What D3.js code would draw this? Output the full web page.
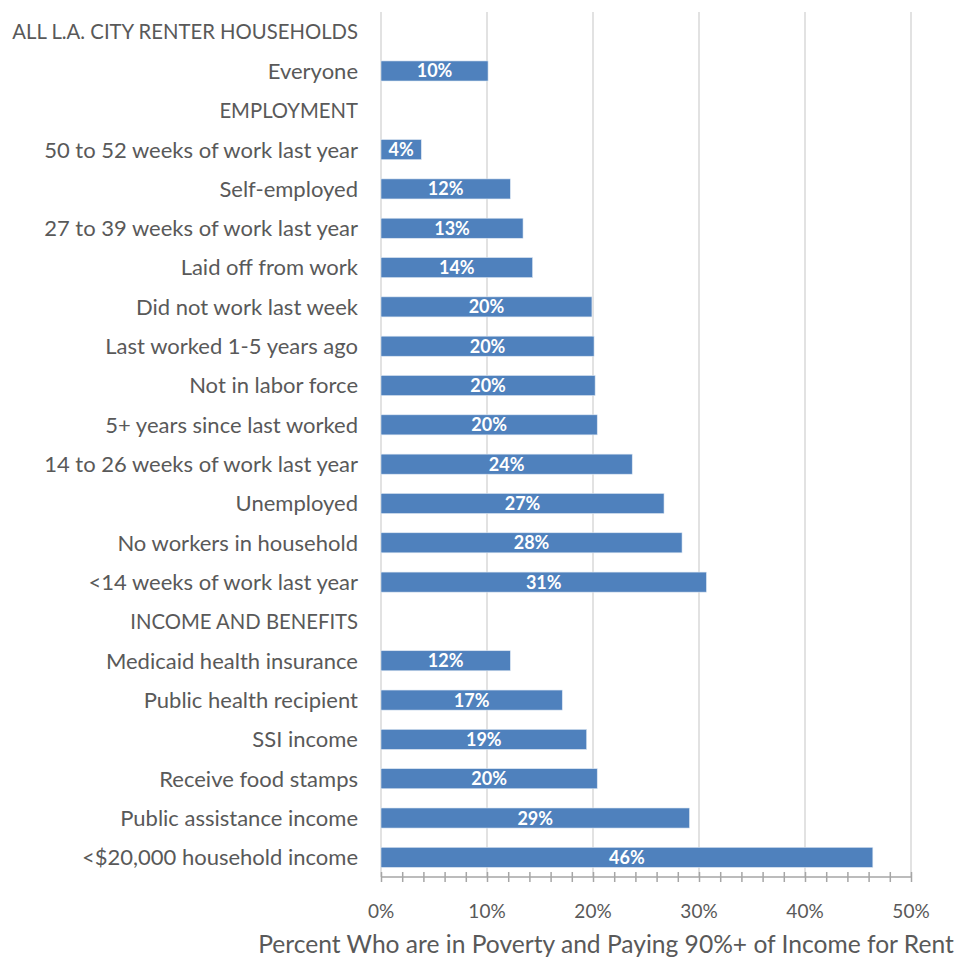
<!DOCTYPE html>
<html>
<head>
<meta charset="utf-8">
<script src="https://cdn.jsdelivr.net/npm/d3@7"></script>
<style>
  body { margin: 0; background: #fff; }
  svg { display: block; }
  text { font-family: Lato, "Open Sans", sans-serif; }
</style>
</head>
<body>
<svg id="chart" width="956" height="957"></svg>
<script>
const categories = [
  "ALL L.A. CITY RENTER HOUSEHOLDS",
  "Everyone",
  "EMPLOYMENT",
  "50 to 52 weeks of work last year",
  "Self-employed",
  "27 to 39 weeks of work last year",
  "Laid off from work",
  "Did not work last week",
  "Last worked 1-5 years ago",
  "Not in labor force",
  "5+ years since last worked",
  "14 to 26 weeks of work last year",
  "Unemployed",
  "No workers in household",
  "<14 weeks of work last year",
  "INCOME AND BENEFITS",
  "Medicaid health insurance",
  "Public health recipient",
  "SSI income",
  "Receive food stamps",
  "Public assistance income",
  "<$20,000 household income"
];
const values = [
  null, 10.1, null, 3.8, 12.2, 13.4, 14.3, 19.9, 20.1, 20.2, 20.4, 23.7,
  26.7, 28.4, 30.7, null, 12.2, 17.1, 19.4, 20.4, 29.1, 46.4
];
const headings = ["ALL L.A. CITY RENTER HOUSEHOLDS", "EMPLOYMENT", "INCOME AND BENEFITS"];
const xTicks = [0, 10, 20, 30, 40, 50];
const xMinorTicks = d3.range(0, 50.001, 2);
const xTitle = "Percent Who are in Poverty and Paying 90%+ of Income for Rent";

const data = categories.map((c, i) => ({ cat: c, val: values[i] }));

const svg = d3.select("#chart");
const margin = { left: 381, right: 45, top: 12, bottom: 80 };
const W = 956, H = 957;
const x = d3.scaleLinear().domain([0, 50]).range([margin.left, W - margin.right]);
const y = d3.scaleBand().domain(categories).range([margin.top, H - margin.bottom]).paddingInner(0.49).paddingOuter(0.245);

const gridColor = "#d9d9d9";
const axisColor = "#a6a6a6";
const textColor = "#595959";

// gridlines
svg.append("g").selectAll("line").data(xTicks).join("line")
  .attr("x1", d => x(d)).attr("x2", d => x(d))
  .attr("y1", margin.top).attr("y2", H - margin.bottom)
  .attr("stroke", gridColor).attr("stroke-width", 1.5);

// bars
svg.append("g").selectAll("rect").data(data.filter(d => d.val != null)).join("rect")
  .attr("x", x(0))
  .attr("y", d => y(d.cat))
  .attr("width", d => x(d.val) - x(0))
  .attr("height", y.bandwidth())
  .attr("fill", "#4f81bd")
  .attr("stroke", "#dce6f2").attr("stroke-width", 0.6);

// data labels
svg.append("g").selectAll("text").data(data.filter(d => d.val != null)).join("text")
  .attr("x", d => (x(0) + x(d.val)) / 2)
  .attr("y", d => y(d.cat) + y.bandwidth() / 2)
  .attr("dy", "0.36em")
  .attr("text-anchor", "middle")
  .attr("fill", "#ffffff")
  .attr("font-weight", "bold")
  .attr("font-size", 18)
  .text(d => Math.round(d.val) + "%");

// x axis
const axisY = H - margin.bottom;
const xAxis = d3.axisBottom(x).tickValues(xMinorTicks).tickSize(5).tickFormat("");
const gx = svg.append("g").attr("transform", `translate(0,${axisY})`).call(xAxis);
gx.select(".domain").remove();
gx.selectAll(".tick line").attr("stroke", axisColor).attr("stroke-width", 1.5).attr("y1", -5).attr("y2", 5);
svg.append("line").attr("x1", x(0)).attr("x2", x(50)).attr("y1", axisY).attr("y2", axisY)
  .attr("stroke", axisColor).attr("stroke-width", 1.5);

svg.append("g").selectAll("text").data(xTicks).join("text")
  .attr("x", d => x(d)).attr("y", axisY + 41)
  .attr("text-anchor", "middle")
  .attr("fill", textColor).attr("font-size", 19)
  .text(d => d + "%");

// y labels
svg.append("g").selectAll("text").data(categories).join("text")
  .attr("x", margin.left - 23)
  .attr("y", d => y(d) + y.bandwidth() / 2)
  .attr("dy", "0.36em")
  .attr("text-anchor", "end")
  .attr("fill", textColor)
  .attr("font-size", d => headings.includes(d) ? 20.3 : 22)
  .text(d => d);

// x title
svg.append("text")
  .attr("x", 606).attr("y", 953)
  .attr("text-anchor", "middle")
  .attr("fill", textColor).attr("font-size", 24.6)
  .text(xTitle);
</script>
</body>
</html>
